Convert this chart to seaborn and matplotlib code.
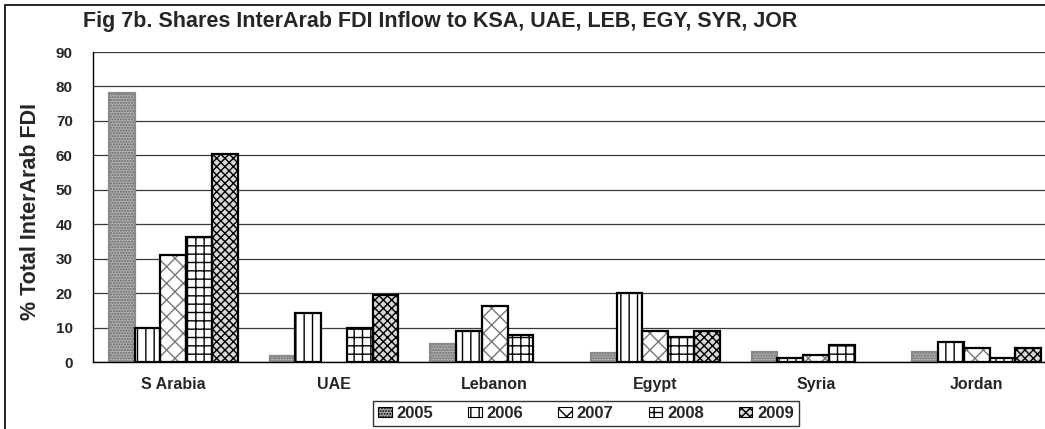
import pandas as pd
import seaborn as sns
import matplotlib.pyplot as plt
from matplotlib.patches import Rectangle, Patch

countries = ["S Arabia", "UAE", "Lebanon", "Egypt", "Syria", "Jordan"]
years = ["2005", "2006", "2007", "2008", "2009"]
share_2005 = [78, 1.8, 5.2, 2.6, 2.8, 2.8]
share_2006 = [10, 14.1, 9, 20, 1.3, 5.9]
share_2007 = [31, 0, 16.4, 9, 1.9, 4.2]
share_2008 = [36.2, 9.9, 7.8, 7.3, 4.8, 1.3]
share_2009 = [60.5, 19.4, 0, 9, 0, 4.2]

rows = []
for yr, vals in zip(years, [share_2005, share_2006, share_2007, share_2008, share_2009]):
    for c, v in zip(countries, vals):
        rows.append({"country": c, "year": yr, "share": v})
df = pd.DataFrame(rows)

sns.set_style("white")
plt.rcParams["font.family"] = ["Liberation Sans", "DejaVu Sans"]
plt.rcParams["hatch.linewidth"] = 1.0

# (face, hatch colour, hatch, outline)
styles = {
    "2005": ("#b0b0b0", "#666666", "......", "#8a8a8a"),
    "2006": ("white", "black", "||", "black"),
    "2007": ("white", "#777777", "xx", "black"),
    "2008": ("white", "black", "++", "black"),
    "2009": ("#d8d8d8", "black", "xxxx", "black"),
}

fig = plt.figure(figsize=(10.45, 4.29), dpi=100)
ax = fig.add_axes([93 / 1045, 67 / 429, (1057 - 93) / 1045, (362 - 52) / 429])

sns.barplot(data=df, x="country", y="share", hue="year", order=countries,
            hue_order=years, ax=ax, width=0.8, saturation=1, legend=False,
            errorbar=None)

for yr, cont in zip(years, ax.containers):
    face, hcol, hatch, outline = styles[yr]
    for p in cont.patches:
        p.set_facecolor(face)
        p.set_edgecolor(hcol)
        p.set_hatch(hatch)
        p.set_linewidth(0)
        if p.get_height() > 0:
            ax.add_patch(Rectangle(p.get_xy(), p.get_width(), p.get_height(),
                                   fill=False, edgecolor=outline, lw=1.6,
                                   zorder=p.get_zorder() + 0.1))

ax.set_ylim(0, 90)
ax.set_xlim(-0.5, 5.5)
ax.set_yticks(range(0, 91, 10))
ax.yaxis.grid(True, color="#3a3a3a", lw=0.9)
ax.set_axisbelow(True)
for s in ["top", "right"]:
    ax.spines[s].set_visible(False)
for s in ["left", "bottom"]:
    ax.spines[s].set_color("black")
    ax.spines[s].set_linewidth(1)
ax.set_xlabel("")
ax.set_ylabel("")
ax.set_xticks([0.5, 1.5, 2.5, 3.5, 4.5], minor=True)
ax.tick_params(axis="x", which="major", length=0, pad=11, labelsize=11.5)
ax.tick_params(axis="x", which="minor", length=4, width=1, direction="out",
               color="black")
ax.tick_params(axis="y", length=4.5, width=1, direction="out", pad=10,
               labelsize=11)
for t in ax.get_xticklabels() + ax.get_yticklabels():
    t.set_fontweight("bold")

fig.text(83 / 1045, 1 - 22 / 429,
         "Fig 7b. Shares InterArab FDI Inflow to KSA, UAE, LEB, EGY, SYR, JOR",
         ha="left", va="center", fontsize=15.5, fontweight="bold")
fig.text(31 / 1045, 1 - 211 / 429, "% Total InterArab FDI", rotation=90,
         ha="center", va="center", fontsize=15.5, fontweight="bold")

handles = [Patch(facecolor=styles[y][0], edgecolor="black", hatch=styles[y][2],
                 lw=0.8) for y in years]
fig.legend(handles, years, loc="upper center", bbox_to_anchor=(586 / 1045, 1 - 401 / 429),
           ncol=5, frameon=True, fancybox=False, edgecolor="black",
           borderaxespad=0, handlelength=0.8, handleheight=0.6,
           handletextpad=0.3, columnspacing=2.1, borderpad=0.3,
           prop={"weight": "bold", "size": 12})

fig.add_artist(Rectangle((5 / 1045, -0.05), 1.2, (429 - 5) / 429 + 0.05,
                         transform=fig.transFigure, fill=False,
                         edgecolor="black", lw=1.2))

fig.savefig("out.png", dpi=100)
